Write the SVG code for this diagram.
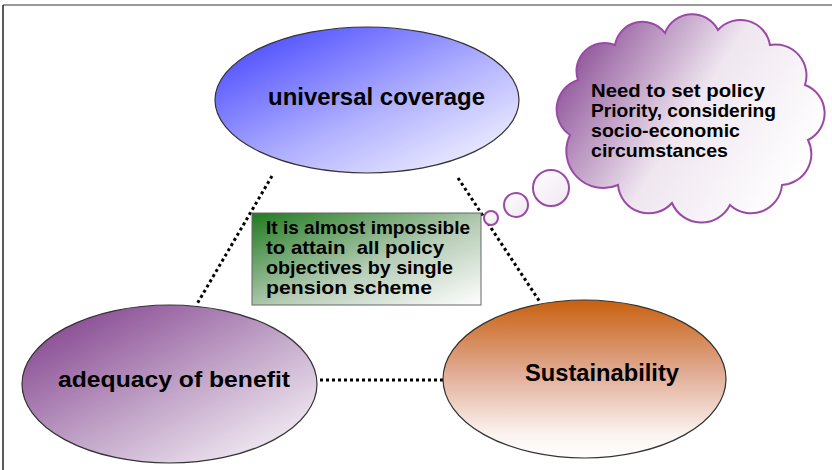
<svg xmlns="http://www.w3.org/2000/svg" width="832" height="470" viewBox="0 0 832 470">
<style>
.lbl{font-family:"Liberation Sans",Arial,sans-serif;font-weight:bold;fill:#000}
.dot{fill:none;stroke:#000;stroke-width:3;stroke-dasharray:3 3}
.ell{stroke:#333;stroke-width:1.2}
</style>
<defs>
<linearGradient id="gBlue" x1="0" y1="0" x2="1" y2="1">
<stop offset="0" stop-color="#3a3aff"/><stop offset="0.55" stop-color="#b0b0ff"/><stop offset="1" stop-color="#ffffff"/>
</linearGradient>
<linearGradient id="gPurple" x1="0" y1="0" x2="1" y2="1">
<stop offset="0" stop-color="#7a3586"/><stop offset="0.55" stop-color="#c4a8ca"/><stop offset="1" stop-color="#ffffff"/>
</linearGradient>
<linearGradient id="gOrange" x1="0" y1="0" x2="0" y2="1">
<stop offset="0" stop-color="#c8600e"/><stop offset="0.45" stop-color="#e0aa92"/><stop offset="0.85" stop-color="#fbf3f0"/><stop offset="1" stop-color="#ffffff"/>
</linearGradient>
<linearGradient id="gGreen" x1="0" y1="0" x2="1" y2="1">
<stop offset="0" stop-color="#1f7a1f"/><stop offset="0.55" stop-color="#b6ccb6"/><stop offset="1" stop-color="#ffffff"/>
</linearGradient>
<linearGradient id="gCloud" x1="0" y1="0.1" x2="1" y2="0.6">
<stop offset="0" stop-color="#7e3a8a"/><stop offset="0.55" stop-color="#efe6f0"/><stop offset="1" stop-color="#ffffff"/>
</linearGradient>
<linearGradient id="gBub" x1="0" y1="0" x2="1" y2="1">
<stop offset="0" stop-color="#ffffff"/><stop offset="1" stop-color="#efe6f1"/>
</linearGradient>
</defs>
<rect width="832" height="470" fill="#fff"/>
<line x1="3" y1="5" x2="832" y2="5" stroke="#999" stroke-width="2"/>
<line x1="3" y1="5" x2="3" y2="470" stroke="#222" stroke-width="1.5"/>
<g id="connectors">
<line class="dot" x1="272" y1="176" x2="197" y2="304"/>
<line class="dot" x1="458" y1="178" x2="540" y2="302"/>
<line class="dot" x1="320" y1="380" x2="443" y2="380"/>
</g>
<g id="universal-coverage">
<ellipse class="ell" cx="367" cy="100" rx="152" ry="73" fill="url(#gBlue)"/>
<text class="lbl" x="268" y="105" font-size="23" textLength="217" lengthAdjust="spacingAndGlyphs">universal coverage</text>
</g>
<g id="adequacy">
<ellipse class="ell" cx="169.5" cy="384" rx="147.5" ry="79" fill="url(#gPurple)"/>
<text class="lbl" x="58" y="387" font-size="22" textLength="232" lengthAdjust="spacingAndGlyphs">adequacy of benefit</text>
</g>
<g id="sustainability">
<ellipse class="ell" cx="584.5" cy="379" rx="141.5" ry="79" fill="url(#gOrange)"/>
<text class="lbl" x="525" y="381" font-size="23" textLength="154" lengthAdjust="spacingAndGlyphs">Sustainability</text>
</g>
<g id="note">
<rect x="252" y="213" width="229" height="92" fill="url(#gGreen)" stroke="#666" stroke-width="1"/>
<text class="lbl" font-size="19">
<tspan x="266" y="234" textLength="204" lengthAdjust="spacingAndGlyphs">It is almost impossible</tspan>
<tspan x="266" y="254" textLength="178" lengthAdjust="spacingAndGlyphs" xml:space="preserve">to attain  all policy</tspan>
<tspan x="266" y="274" textLength="187" lengthAdjust="spacingAndGlyphs">objectives by single</tspan>
<tspan x="266" y="294" textLength="166" lengthAdjust="spacingAndGlyphs">pension scheme</tspan>
</text>
</g>
<g id="thought" stroke="#9a4aa6" stroke-width="2">
<circle cx="491" cy="218" r="7" fill="url(#gBub)"/>
<circle cx="516" cy="205" r="12" fill="url(#gBub)"/>
<circle cx="551" cy="188" r="18" fill="url(#gBub)"/>
<path fill="url(#gCloud)" d="M570,135 A31,31 0 0 1 578,80 A28,28 0 0 1 615,45 A28,28 0 0 1 665,33 A29,29 0 0 1 718,30 A30,30 0 0 1 770,45 A31,31 0 0 1 805,85 A30,30 0 0 1 808,140 A31,31 0 0 1 782,185 A31,31 0 0 1 730,205 A32,32 0 0 1 672,203 A31,31 0 0 1 618,185 A37,37 0 0 1 570,135 Z"/>
<text class="lbl" font-size="18.5" stroke="none">
<tspan x="591" y="97" textLength="174" lengthAdjust="spacingAndGlyphs">Need to set policy</tspan>
<tspan x="591" y="117" textLength="185" lengthAdjust="spacingAndGlyphs">Priority, considering</tspan>
<tspan x="591" y="137" textLength="149" lengthAdjust="spacingAndGlyphs">socio-economic</tspan>
<tspan x="591" y="157" textLength="137" lengthAdjust="spacingAndGlyphs">circumstances</tspan>
</text>
</g>
</svg>
